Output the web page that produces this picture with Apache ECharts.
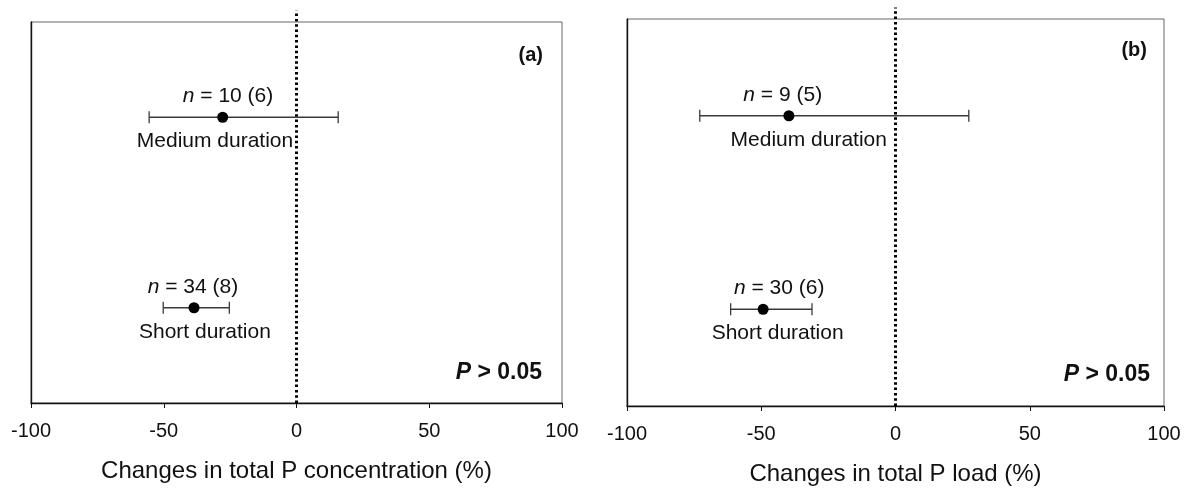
<!DOCTYPE html>
<html>
<head>
<meta charset="utf-8">
<script src="https://cdn.jsdelivr.net/npm/echarts@6/dist/echarts.min.js"></script>
<style>
  html, body { margin: 0; padding: 0; background: #fff; }
  #main { width: 1192px; height: 495px; }
</style>
</head>
<body>
<div id="main"></div>
<script>
// groups, placed on a hidden 0..4 y scale
const groupNames = ['Medium duration', 'Short duration'];
const groupY = [3, 1];
const zeroLineY = [0, 4.12];

// (a) total P concentration
const meanA = [-27.8, -38.6];
const lowA = [-55.5, -50.2];
const highA = [15.7, -25.3];
const nTextA = ['10 (6)', '34 (8)'];
const nLabelXA = [-25.8, -39.0];
const nameLabelXA = [-30.7, -34.5];

// (b) total P load
const meanB = [-39.7, -49.3];
const lowB = [-72.9, -61.4];
const highB = [27.3, -31.1];
const nTextB = ['9 (5)', '30 (6)'];
const nLabelXB = [-42.0, -43.3];
const nameLabelXB = [-32.3, -43.9];

const FONT = "'Liberation Sans', Arial, sans-serif";

function errorBars(low, high) {
  return function (params, api) {
    const i = params.dataIndex;
    const y = api.value(1);
    const a = api.coord([low[i], y]);
    const b = api.coord([high[i], y]);
    const st = { stroke: '#3a3a3a', lineWidth: 1.3 };
    return {
      type: 'group',
      children: [
        { type: 'line', shape: { x1: a[0], y1: a[1], x2: b[0], y2: b[1] }, style: st },
        { type: 'line', shape: { x1: a[0], y1: a[1] - 6, x2: a[0], y2: a[1] + 6 }, style: st },
        { type: 'line', shape: { x1: b[0], y1: b[1] - 6, x2: b[0], y2: b[1] + 6 }, style: st }
      ]
    };
  };
}

function textSeries(idx, xs, texts, dy) {
  return {
    type: 'scatter',
    xAxisIndex: idx, yAxisIndex: idx,
    symbolSize: 1,
    itemStyle: { color: 'rgba(0,0,0,0)', opacity: 1 },
    silent: true,
    z: 5,
    data: groupY.map((y, i) => [xs[i], y]),
    label: {
      show: true,
      position: 'inside',
      offset: [0, dy],
      fontFamily: FONT,
      fontSize: 21,
      color: '#111',
      formatter: p => texts[p.dataIndex],
      rich: {
        i: { fontStyle: 'italic', fontFamily: FONT, fontSize: 21, color: '#111' }
      }
    }
  };
}

function panelSeries(idx, mean, low, high, nText, nLabelX, nameLabelX) {
  return [
    {
      type: 'line',
      xAxisIndex: idx, yAxisIndex: idx,
      clip: false,
      symbol: 'none',
      silent: true,
      z: 3,
      lineStyle: { color: '#000', width: 3, type: [2.5, 2.8] },
      data: zeroLineY.map(y => [0, y])
    },
    {
      type: 'custom',
      xAxisIndex: idx, yAxisIndex: idx,
      renderItem: errorBars(low, high),
      encode: { x: 0, y: 1 },
      z: 4,
      data: groupY.map((y, i) => [mean[i], y])
    },
    {
      type: 'scatter',
      xAxisIndex: idx, yAxisIndex: idx,
      symbol: 'circle',
      symbolSize: 11,
      itemStyle: { color: '#000', opacity: 1 },
      z: 6,
      data: groupY.map((y, i) => [mean[i], y])
    },
    textSeries(idx, nLabelX, nText.map(t => '{i|n} = ' + t), -21),
    textSeries(idx, nameLabelX, groupNames, 24)
  ];
}

function xAxis(idx, name) {
  return {
    type: 'value',
    gridIndex: idx,
    min: -100, max: 100, interval: 50,
    name: name,
    nameLocation: 'middle',
    nameGap: 56,
    nameTextStyle: { fontFamily: FONT, fontSize: 24, color: '#111' },
    axisLine: { show: true, lineStyle: { color: '#111', width: 1.4 } },
    axisTick: { show: true, length: 5, lineStyle: { color: '#111' } },
    axisLabel: { fontFamily: FONT, fontSize: 20, color: '#111', margin: 18 },
    splitLine: { show: false }
  };
}

function yAxis(idx) {
  return {
    type: 'value',
    gridIndex: idx,
    min: 0, max: 4,
    axisLine: { show: true, onZero: false, lineStyle: { color: '#111', width: 1.4 } },
    axisTick: { show: false },
    axisLabel: { show: false },
    splitLine: { show: false }
  };
}

const chart = echarts.init(document.getElementById('main'));
chart.setOption({
  animation: false,
  backgroundColor: '#fff',
  title: [
    { text: '(a)', right: 649, top: 43, padding: 0,
      textStyle: { fontFamily: FONT, fontSize: 20, fontWeight: 'bold', color: '#111', lineHeight: 24 } },
    { text: '(b)', right: 45, top: 38, padding: 0,
      textStyle: { fontFamily: FONT, fontSize: 20, fontWeight: 'bold', color: '#111', lineHeight: 24 } },
    { text: '{p|P} > 0.05', right: 650, top: 360, padding: 0,
      textStyle: { fontFamily: FONT, fontSize: 23, fontWeight: 'bold', color: '#111', lineHeight: 26,
        rich: { p: { fontFamily: FONT, fontSize: 23, fontWeight: 'bold', fontStyle: 'italic', color: '#111' } } } },
    { text: '{p|P} > 0.05', right: 42, top: 362, padding: 0,
      textStyle: { fontFamily: FONT, fontSize: 23, fontWeight: 'bold', color: '#111', lineHeight: 26,
        rich: { p: { fontFamily: FONT, fontSize: 23, fontWeight: 'bold', fontStyle: 'italic', color: '#111' } } } }
  ],
  grid: [
    { left: 31, top: 22, width: 531, height: 381, show: true, borderColor: '#666', borderWidth: 1 },
    { left: 627, top: 19, width: 537, height: 387, show: true, borderColor: '#666', borderWidth: 1 }
  ],
  xAxis: [
    xAxis(0, 'Changes in total P concentration (%)'),
    xAxis(1, 'Changes in total P load (%)')
  ],
  yAxis: [yAxis(0), yAxis(1)],
  series: [
    ...panelSeries(0, meanA, lowA, highA, nTextA, nLabelXA, nameLabelXA),
    ...panelSeries(1, meanB, lowB, highB, nTextB, nLabelXB, nameLabelXB)
  ]
});
</script>
</body>
</html>
